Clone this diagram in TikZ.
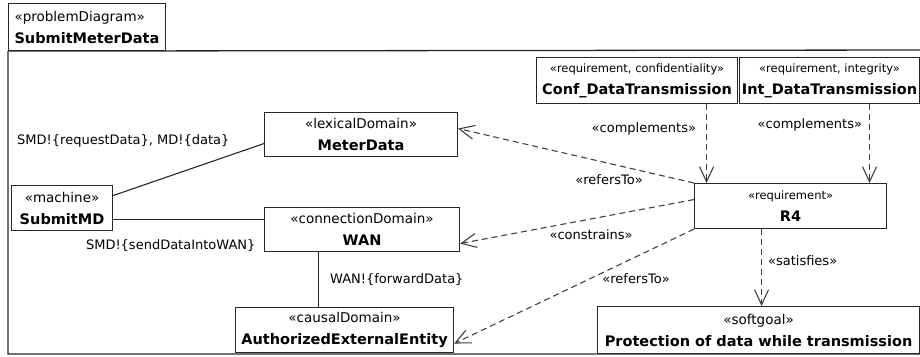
\documentclass[tikz,border=0pt]{standalone}
\usepackage{fontspec}
\setmainfont{DejaVu Sans}
\usetikzlibrary{arrows.meta}
\newcommand{\stype}[1]{{\fontsize{13.5}{22}\selectfont «#1»}}
\newcommand{\rtype}[1]{{\fontsize{11.5}{22}\selectfont «#1»}}
\newcommand{\bname}[1]{{\fontsize{14.5}{22}\selectfont\bfseries #1}}

\begin{document}
\begin{tikzpicture}[x=1pt,y=-1pt,>={Straight Barb[length=15pt,width=14pt]},line width=1.1pt,
  box/.style={draw=black!85,rectangle,anchor=north west,inner sep=0pt,align=center,minimum height=44pt,font=\fontsize{13}{22}\selectfont},
  link/.style={draw=black!85},
  dep/.style={draw=black!75,dash pattern=on 6pt off 4pt,->},
  lbl/.style={inner sep=1pt,font=\fontsize{13}{15}\selectfont}]
  \useasboundingbox (0,0) rectangle (920,356);

  \node[box,align=left,inner xsep=6pt,minimum height=47pt] (tab) at (8,3) {\stype{problemDiagram}\\\bname{SubmitMeterData}};
  \draw[black!85,line width=1.3pt] (tab.south west) -- (930,50) (tab.south west) -- (8,354) -- (930,354);

  \node[box,minimum width=101pt,minimum height=45pt] (sm) at (11,185) {\stype{machine}\\\bname{SubmitMD}};
  \node[box,minimum width=193pt] (md) at (264,112) {\stype{lexicalDomain}\\\bname{MeterData}};
  \node[box,minimum width=195pt] (wan) at (264,207) {\stype{connectionDomain}\\\bname{WAN}};
  \node[box,minimum width=218pt,minimum height=45pt] (aee) at (235,307) {\stype{causalDomain}\\\bname{AuthorizedExternalEntity}};
  \node[box,minimum width=201pt,minimum height=46pt] (conf) at (536,57) {\rtype{requirement, confidentiality}\\\bname{Conf\_DataTransmission}};
  \node[box,minimum width=180pt,minimum height=46pt] (int) at (739,57) {\rtype{requirement, integrity}\\\bname{Int\_DataTransmission}};
  \node[box,minimum width=192pt,minimum height=45pt] (r4) at (694,183) {\rtype{requirement}\\\bname{R4}};
  \node[box,minimum width=322pt,minimum height=47pt] (soft) at (597,306) {\stype{softgoal}\\\bname{Protection of data while transmission}};

  \draw[link] ([yshift=12.5pt]sm.east) -- node[lbl,at end,anchor=east,xshift=-33pt,yshift=3pt] {SMD!\{requestData\}, MD!\{data\}} ([yshift=-9pt]md.west);
  \draw[link] ([yshift=-11.5pt]sm.east) -- node[lbl,at end,anchor=east,xshift=-7pt,yshift=-26pt] {SMD!\{sendDataIntoWAN\}} ([yshift=-11.5pt]sm.east -| wan.west);
  \draw[link] ([xshift=-43.5pt]wan.south) -- node[lbl,midway,anchor=west,xshift=10pt] {WAN!\{forwardData\}} ([xshift=-43.5pt]wan.south |- aee.north);

  \draw[dep] ([xshift=69.5pt]conf.south) -- node[lbl,pos=0.31,anchor=east,xshift=-9pt] {«complements»} ([xshift=69.5pt]conf.south |- r4.north);
  \draw[dep] ([xshift=40pt]int.south) -- node[lbl,pos=0.27,anchor=east,xshift=-6pt] {«complements»} ([xshift=40pt]int.south |- r4.north);
  \draw[dep] (r4.north west) -- node[lbl,pos=0.36,anchor=north,yshift=-10pt] {«refersTo»} ([yshift=6pt]md.east);
  \draw[dep] ([yshift=6.5pt]r4.west) -- node[lbl,pos=0.44,anchor=north,yshift=-9pt] {«constrains»} ([yshift=-14pt]wan.east);
  \draw[dep] (r4.south west) -- node[lbl,pos=0.43,anchor=west,xshift=10pt] {«refersTo»} ([yshift=-13.5pt]aee.east);
  \draw[dep] ([xshift=-29pt]r4.south) -- node[lbl,pos=0.41,anchor=west,xshift=5pt] {«satisfies»} ([xshift=-29pt]r4.south |- soft.north);
\end{tikzpicture}
\end{document}
